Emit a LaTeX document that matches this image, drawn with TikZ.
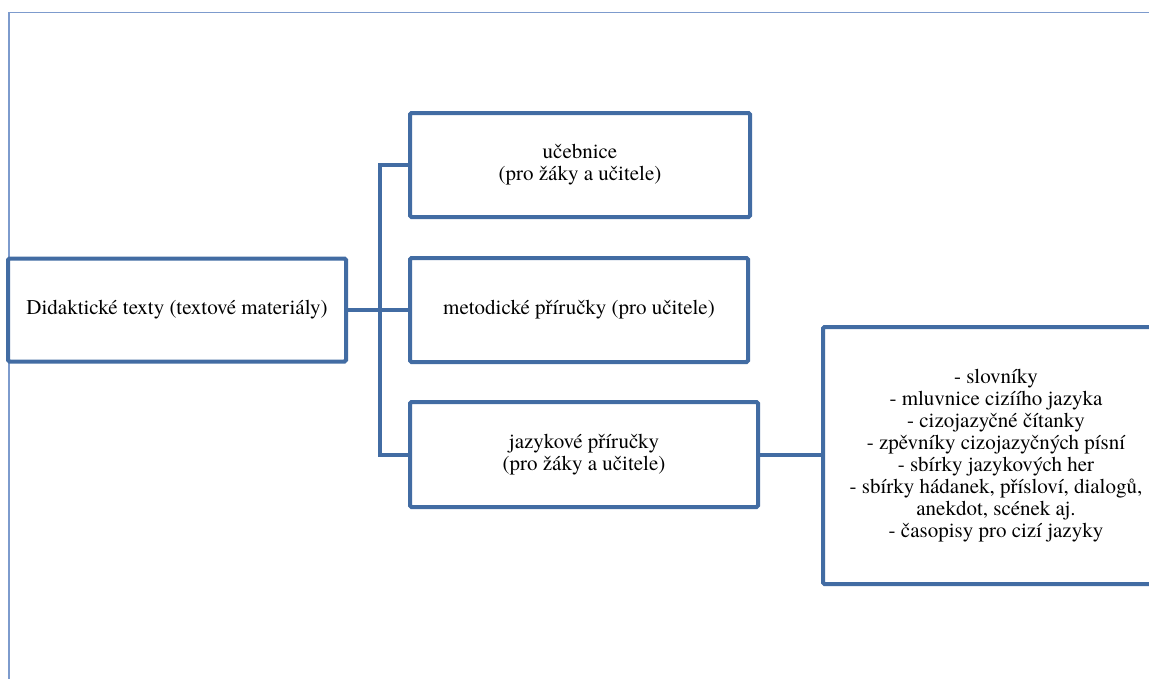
\documentclass[tikz,border=0pt]{standalone}
\usepackage{fontspec}
\setmainfont{TeX Gyre Termes}
\definecolor{boxblue}{RGB}{66,108,163}
\definecolor{frameblue}{RGB}{125,155,205}
\begin{document}
\begin{tikzpicture}[x=1pt,y=-1pt,
  box/.style={draw=boxblue, line width=4pt, rounded corners=1.5pt, align=center,
    font=\fontsize{21}{22}\selectfont, inner sep=0pt, fill=white},
  link/.style={draw=boxblue, line width=4pt, line join=miter}]
\useasboundingbox (0,0) rectangle (1149,678);
\clip (0,0) rectangle (1149,678);
\fill[white] (0,0) rectangle (1149,678);
\draw[frameblue, line width=1.5pt] (9,12.5) rectangle (1220,740);
\coordinate (bus) at (380,310);
\node[box, minimum width=338pt, minimum height=103pt] (root) at (177,310) {Didaktické texty (textové materiály)};
\node[box, minimum width=340pt, minimum height=104pt] (b1) at (580,165) {učebnice\\(pro žáky a učitele)};
\node[box, minimum width=338pt, minimum height=104pt] (b2) at (579,310) {metodické příručky (pro učitele)};
\node[box, minimum width=348pt, minimum height=105pt] (b3) at (584,454.5) {jazykové příručky\\(pro žáky a učitele)};
\node[box, minimum width=346pt, minimum height=257pt] (b4) at (996,455.5) {- slovníky\\- mluvnice cizíího jazyka\\- cizojazyčné čítanky\\- zpěvníky cizojazyčných písní\\- sbírky jazykových her\\- sbírky hádanek, přísloví, dialogů,\\anekdot, scének aj.\\- časopisy pro cizí jazyky};
\draw[link] (root.east) -- (bus);
\draw[link] (b1.west) -- (b1.west -| bus) -- (b3.west -| bus) -- (b3.west);
\draw[link] (bus) -- (bus -| b2.west);
\draw[link] (b3.east) -- (b3.east -| b4.west);
\end{tikzpicture}
\end{document}
